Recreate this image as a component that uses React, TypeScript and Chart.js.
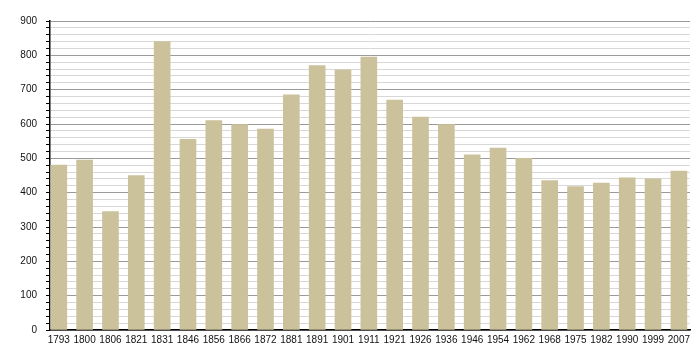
import React, { useEffect, useRef } from "react";
import { Chart, registerables } from "chart.js";

Chart.register(...registerables);

const years = ["1793","1800","1806","1821","1831","1846","1856","1866","1872","1881","1891","1901","1911","1921","1926","1936","1946","1954","1962","1968","1975","1982","1990","1999","2007"];
const population = [480,495,345,450,840,555,610,598,585,685,770,758,795,670,620,598,510,530,500,435,418,428,443,440,463];

export default function App() {
  const ref = useRef<HTMLCanvasElement | null>(null);
  useEffect(() => {
    document.body.style.margin = "0";
    const ctx = ref.current!;
    const chart = new Chart(ctx, {
      type: "bar",
      data: {
        datasets: [
          {
            data: population.map((v, i) => ({ x: i, y: v })),
            backgroundColor: "#cbc29b",
            borderWidth: 0,
            barThickness: 16,
          },
        ],
      },
      options: {
        animation: false,
        responsive: false,
        maintainAspectRatio: false,
        plugins: { legend: { display: false }, tooltip: { enabled: false } },
        layout: { padding: { top: 21, right: 10, left: 0, bottom: 0 } },
        scales: {
          x: {
            type: "linear",
            offset: false,
            min: -0.34,
            max: 24.43,
            afterFit: (s: any) => { s.height = 30; },
            grid: { display: false, drawTicks: false, offset: false },
            border: { display: true, color: "#000", width: 1.5 },
            ticks: {
              stepSize: 1,
              includeBounds: false,
              autoSkip: false,
              maxRotation: 0,
              padding: 4,
              color: "#111",
              font: { family: "Liberation Sans, Arial, sans-serif", size: 10 },
              callback: (v: any) => (Number.isInteger(v) && years[v] !== undefined ? years[v] : ""),
            },
          },
          y: {
            min: 0,
            max: 900,
            afterFit: (s: any) => { s.width = 50; },
            border: { display: true, color: "#000", width: 1.5 },
            grid: {
              color: (c: any) => (c.tick && c.tick.value % 100 === 0 ? "#9a9a9a" : "#d8d8d8"),
              tickColor: "#000",
              tickLength: 4,
              lineWidth: 1,
            },
            ticks: {
              stepSize: 20,
              autoSkip: false,
              padding: 9,
              color: "#111",
              font: { family: "Liberation Sans, Arial, sans-serif", size: 10 },
              callback: (v: any) => (v % 100 === 0 ? String(v) : ""),
            },
          },
        },
      },
    });
    return () => chart.destroy();
  }, []);
  return <canvas ref={ref} width={700} height={360} style={{ display: "block" }} />;
}
